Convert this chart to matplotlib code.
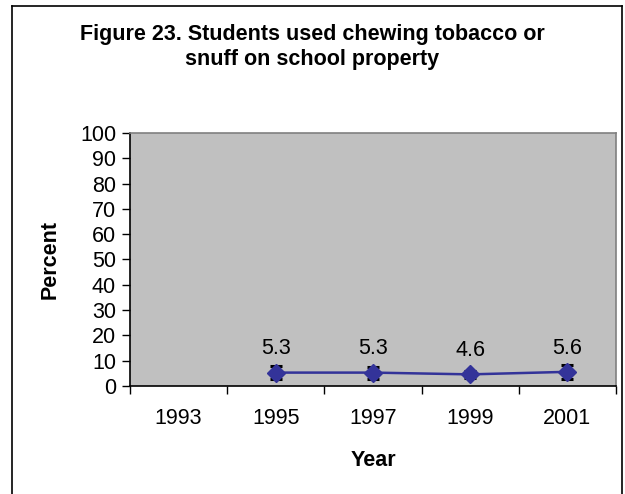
import numpy as np
import matplotlib.pyplot as plt
from matplotlib.lines import Line2D

plt.rcParams["font.family"] = ["Liberation Sans", "DejaVu Sans"]

# survey years and percentages (no 1993 value)
years = ["1993", "1995", "1997", "1999", "2001"]
percent = [np.nan, 5.3, 5.3, 4.6, 5.6]
ci_half = [np.nan, 2.5, 2.4, 1.5, 2.8]
value_labels = ["", "5.3", "5.3", "4.6", "5.6"]

fig = plt.figure(figsize=(6.25, 4.94), dpi=100)
ax = fig.add_axes([0.208, 0.2186, 0.7776, 0.5122])

x = np.arange(len(years))
ax.set_facecolor("#C0C0C0")
ax.errorbar(x, percent, yerr=ci_half, fmt="none", ecolor="black",
            elinewidth=1.2, capsize=4, capthick=2.2, zorder=2)
ax.plot(x, percent, color="#333399", linewidth=1.8, marker="D",
        markersize=9, markerfacecolor="#333399", markeredgecolor="#333399",
        zorder=3)

for xi, yi, txt in zip(x, percent, value_labels):
    if txt:
        ax.annotate(txt, (xi, yi), xytext=(0, 17), textcoords="offset points",
                    ha="center", va="center", fontsize=15.5)

ax.set_xlim(-0.5, len(years) - 0.5)
ax.set_ylim(0, 100)
ax.set_yticks(range(0, 101, 10))
ax.set_xticks(np.arange(-0.5, len(years), 1.0))
ax.set_xticklabels([])
ax.set_xticks(x, minor=True)
ax.set_xticklabels(years, minor=True)
ax.tick_params(axis="x", which="major", direction="out", length=6, width=1)
ax.tick_params(axis="x", which="minor", length=0, pad=16, labelsize=15.5)
ax.tick_params(axis="y", direction="out", length=6, width=1, labelsize=15.5, pad=4)

for side in ["left", "bottom"]:
    ax.spines[side].set_color("black")
    ax.spines[side].set_linewidth(1.2)
for side in ["top", "right"]:
    ax.spines[side].set_color("#808080")
    ax.spines[side].set_linewidth(1.2)

ax.set_xlabel("Year", fontsize=15.5, fontweight="bold", labelpad=15)
ax.set_ylabel("Percent", fontsize=15.5, fontweight="bold", labelpad=14)

fig.text(0.5, 0.905, "Figure 23. Students used chewing tobacco or\nsnuff on school property",
         ha="center", va="center", fontsize=15.5, fontweight="bold", linespacing=1.3)

# outer frame (left, top, right edges)
frame_kw = dict(color="black", linewidth=1.2, transform=fig.transFigure)
fig.add_artist(Line2D([0.019, 0.019], [0.0, 0.988], **frame_kw))
fig.add_artist(Line2D([0.019, 0.995], [0.988, 0.988], **frame_kw))
fig.add_artist(Line2D([0.995, 0.995], [0.0, 0.988], **frame_kw))

fig.savefig("out.png", dpi=100)
